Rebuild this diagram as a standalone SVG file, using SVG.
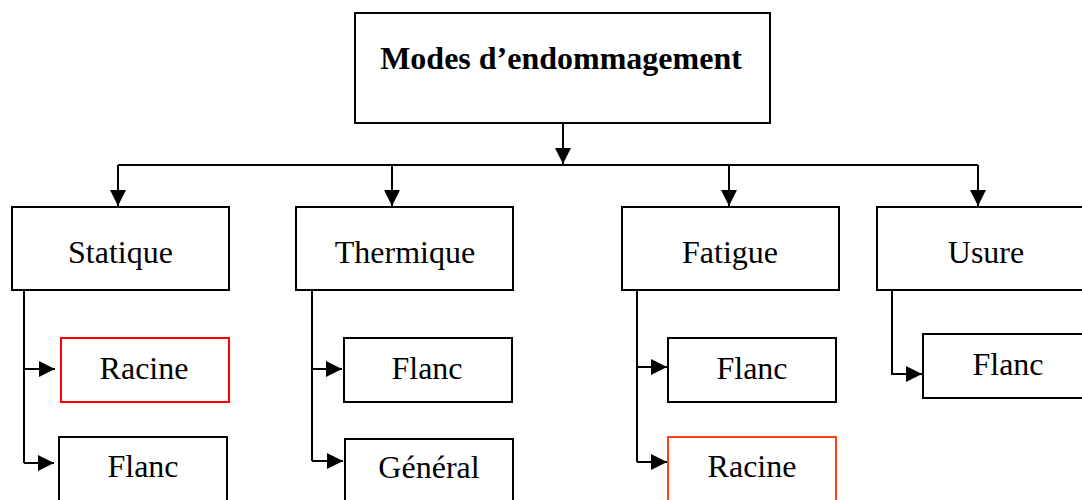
<svg xmlns="http://www.w3.org/2000/svg" width="1082" height="500" viewBox="0 0 1082 500">
<style>
.box{fill:#fff;stroke:#000;stroke-width:2}
.red{fill:#fff;stroke:#ff0000;stroke-width:2}
.orange{fill:#fff;stroke:#ff4019;stroke-width:2}
.t{font-family:"Liberation Serif","Times New Roman",serif;font-size:32px;fill:#000;text-anchor:middle}
.title{font-weight:bold}
.c{fill:none;stroke:#000;stroke-width:2}
</style>
<defs>
<marker id="ah" markerUnits="userSpaceOnUse" markerWidth="18" markerHeight="18" refX="16" refY="8" orient="auto">
<path d="M0,0 L16,8 L0,16 z" fill="#000"/>
</marker>
</defs>
<rect width="1082" height="500" fill="#fff"/>
<g id="connectors">
<path class="c" d="M563,123 V164" marker-end="url(#ah)"/>
<path class="c" d="M118,165 H978"/>
<path class="c" d="M118,165 V206" marker-end="url(#ah)"/>
<path class="c" d="M392,165 V206" marker-end="url(#ah)"/>
<path class="c" d="M729,165 V206" marker-end="url(#ah)"/>
<path class="c" d="M978,165 V206" marker-end="url(#ah)"/>
<path class="c" d="M24,290 V463"/>
<path class="c" d="M24,369 H55" marker-end="url(#ah)"/>
<path class="c" d="M24,463 H54" marker-end="url(#ah)"/>
<path class="c" d="M312,290 V461"/>
<path class="c" d="M312,369 H342" marker-end="url(#ah)"/>
<path class="c" d="M312,461 H343" marker-end="url(#ah)"/>
<path class="c" d="M637,290 V462"/>
<path class="c" d="M637,367 H667" marker-end="url(#ah)"/>
<path class="c" d="M637,462 H667" marker-end="url(#ah)"/>
<path class="c" d="M892,290 V374 H922" marker-end="url(#ah)"/>
</g>
<g id="modes">
<rect class="box" x="355" y="13" width="415" height="110"/>
<text class="t title" x="561" y="69">Modes d’endommagement</text>
</g>
<g id="statique">
<rect class="box" x="12" y="207" width="217" height="83"/>
<text class="t" x="120.5" y="263">Statique</text>
</g>
<g id="thermique">
<rect class="box" x="296" y="207" width="217" height="83"/>
<text class="t" x="405" y="263">Thermique</text>
</g>
<g id="fatigue">
<rect class="box" x="622" y="207" width="217" height="83"/>
<text class="t" x="730" y="263">Fatigue</text>
</g>
<g id="usure">
<rect class="box" x="877" y="207" width="217" height="83"/>
<text class="t" x="986" y="263">Usure</text>
</g>
<g id="statique-racine">
<rect class="red" x="61" y="338" width="168" height="64"/>
<text class="t" x="144" y="379">Racine</text>
</g>
<g id="statique-flanc">
<rect class="box" x="59" y="437" width="168" height="70"/>
<text class="t" x="143" y="477">Flanc</text>
</g>
<g id="thermique-flanc">
<rect class="box" x="344" y="338" width="168" height="64"/>
<text class="t" x="427" y="379">Flanc</text>
</g>
<g id="thermique-general">
<rect class="box" x="345" y="439" width="168" height="70"/>
<text class="t" x="429" y="478">Général</text>
</g>
<g id="fatigue-flanc">
<rect class="box" x="668" y="338" width="168" height="64"/>
<text class="t" x="752" y="379">Flanc</text>
</g>
<g id="fatigue-racine">
<rect class="orange" x="668" y="437" width="168" height="70"/>
<text class="t" x="752" y="477">Racine</text>
</g>
<g id="usure-flanc">
<rect class="box" x="923" y="334" width="180" height="64"/>
<text class="t" x="1008" y="375">Flanc</text>
</g>
</svg>
